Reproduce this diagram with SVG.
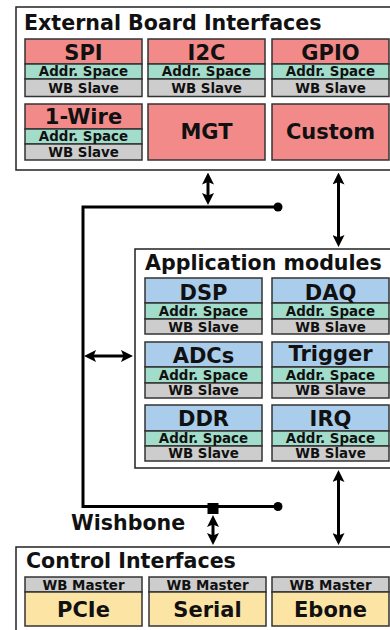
<svg xmlns="http://www.w3.org/2000/svg" width="390" height="630" viewBox="0 0 390 630">
<style>
.frame{fill:#fff;stroke:#222;stroke-width:1.5}
.r{fill:#f38a8a;stroke:#333;stroke-width:1.5}
.b{fill:#a9cdea;stroke:#333;stroke-width:1.5}
.y{fill:#fce4a4;stroke:#333;stroke-width:1.5}
.g{fill:#a2dcca;stroke:#333;stroke-width:1.5}
.s{fill:#cdcdcd;stroke:#333;stroke-width:1.5}
text{font-family:"DejaVu Sans",sans-serif;font-weight:bold;fill:#111}
.t{font-size:20.6px}
.l{font-size:21px;text-anchor:middle}
.m{font-size:13.4px;text-anchor:middle}
.c{fill:none;stroke:#000;stroke-width:3}
</style>
<defs>
<marker id="ah" viewBox="0 0 12 12" refX="8" refY="6" markerWidth="12" markerHeight="12" markerUnits="userSpaceOnUse" orient="auto-start-reverse">
<path d="M0,0 L12,6 L0,12 L2.5,6 z" fill="#000"/>
</marker>
</defs>

<g id="external-frame">
<rect class="frame" x="16" y="7" width="400" height="163"/>
<text class="t" x="24" y="29.5">External Board Interfaces</text>
</g>
<g id="spi">
<rect class="r" x="25" y="39" width="117" height="25"/><rect class="g" x="25" y="64" width="117" height="15"/><rect class="s" x="25" y="79" width="117" height="17.5"/>
<text class="l" x="83.5" y="59.5">SPI</text><text class="m" x="83.5" y="76">Addr. Space</text><text class="m" x="83.5" y="92.5">WB Slave</text>
</g>
<g id="i2c">
<rect class="r" x="148" y="39" width="117" height="25"/><rect class="g" x="148" y="64" width="117" height="15"/><rect class="s" x="148" y="79" width="117" height="17.5"/>
<text class="l" x="206.5" y="59.5">I2C</text><text class="m" x="206.5" y="76">Addr. Space</text><text class="m" x="206.5" y="92.5">WB Slave</text>
</g>
<g id="gpio">
<rect class="r" x="272" y="39" width="117" height="25"/><rect class="g" x="272" y="64" width="117" height="15"/><rect class="s" x="272" y="79" width="117" height="17.5"/>
<text class="l" x="330.5" y="59.5">GPIO</text><text class="m" x="330.5" y="76">Addr. Space</text><text class="m" x="330.5" y="92.5">WB Slave</text>
</g>
<g id="onewire">
<rect class="r" x="25" y="104" width="117" height="25"/><rect class="g" x="25" y="129" width="117" height="15"/><rect class="s" x="25" y="144" width="117" height="16"/>
<text class="l" x="83.5" y="123.5">1-Wire</text><text class="m" x="83.5" y="140.5">Addr. Space</text><text class="m" x="83.5" y="156.5">WB Slave</text>
</g>
<g id="mgt">
<rect class="r" x="148" y="104" width="117" height="56"/>
<text class="l" x="206.5" y="139">MGT</text>
</g>
<g id="custom">
<rect class="r" x="272" y="104" width="117" height="56"/>
<text class="l" x="330.5" y="139">Custom</text>
</g>

<g id="app-frame">
<rect class="frame" x="135" y="249" width="300" height="219"/>
<text class="t" x="145" y="270">Application modules</text>
</g>
<g id="dsp">
<rect class="b" x="145" y="278" width="117" height="25"/><rect class="g" x="145" y="303" width="117" height="16"/><rect class="s" x="145" y="319" width="117" height="15"/>
<text class="l" x="203.5" y="300">DSP</text><text class="m" x="203.5" y="316">Addr. Space</text><text class="m" x="203.5" y="331.5">WB Slave</text>
</g>
<g id="daq">
<rect class="b" x="272" y="278" width="117" height="25"/><rect class="g" x="272" y="303" width="117" height="16"/><rect class="s" x="272" y="319" width="117" height="15"/>
<text class="l" x="330.5" y="300">DAQ</text><text class="m" x="330.5" y="316">Addr. Space</text><text class="m" x="330.5" y="331.5">WB Slave</text>
</g>
<g id="adcs">
<rect class="b" x="145" y="342" width="117" height="25"/><rect class="g" x="145" y="367" width="117" height="16"/><rect class="s" x="145" y="383" width="117" height="15"/>
<text class="l" x="203.5" y="363">ADCs</text><text class="m" x="203.5" y="379.5">Addr. Space</text><text class="m" x="203.5" y="395">WB Slave</text>
</g>
<g id="trigger">
<rect class="b" x="272" y="342" width="117" height="25"/><rect class="g" x="272" y="367" width="117" height="16"/><rect class="s" x="272" y="383" width="117" height="15"/>
<text class="l" x="330.5" y="361">Trigger</text><text class="m" x="330.5" y="379.5">Addr. Space</text><text class="m" x="330.5" y="395">WB Slave</text>
</g>
<g id="ddr">
<rect class="b" x="145" y="405" width="117" height="26"/><rect class="g" x="145" y="431" width="117" height="15"/><rect class="s" x="145" y="446" width="117" height="15"/>
<text class="l" x="203.5" y="426">DDR</text><text class="m" x="203.5" y="442.5">Addr. Space</text><text class="m" x="203.5" y="457.5">WB Slave</text>
</g>
<g id="irq">
<rect class="b" x="272" y="405" width="117" height="26"/><rect class="g" x="272" y="431" width="117" height="15"/><rect class="s" x="272" y="446" width="117" height="15"/>
<text class="l" x="330.5" y="426">IRQ</text><text class="m" x="330.5" y="442.5">Addr. Space</text><text class="m" x="330.5" y="457.5">WB Slave</text>
</g>

<g id="control-frame">
<rect class="frame" x="16" y="547" width="400" height="100"/>
<text class="t" x="26" y="568">Control Interfaces</text>
</g>
<g id="pcie">
<rect class="s" x="25" y="577" width="117" height="15"/><rect class="y" x="25" y="592" width="117" height="34"/>
<text class="m" x="83.5" y="590">WB Master</text><text class="l" x="83.5" y="617">PCIe</text>
</g>
<g id="serial">
<rect class="s" x="149" y="577" width="117" height="15"/><rect class="y" x="149" y="592" width="117" height="34"/>
<text class="m" x="207.5" y="590">WB Master</text><text class="l" x="207.5" y="617">Serial</text>
</g>
<g id="ebone">
<rect class="s" x="272" y="577" width="117" height="15"/><rect class="y" x="272" y="592" width="117" height="34"/>
<text class="m" x="330.5" y="590">WB Master</text><text class="l" x="330.5" y="617">Ebone</text>
</g>

<g id="connectors">
<path class="c" d="M278,207 H83 V506.5 H278"/>
<circle cx="278" cy="207" r="4.5" fill="#000"/>
<circle cx="278" cy="506.5" r="4.5" fill="#000"/>
<rect x="207.5" y="503" width="11" height="11" fill="#000"/>
<line class="c" x1="208" y1="176.5" x2="208" y2="201" marker-start="url(#ah)" marker-end="url(#ah)"/>
<line class="c" x1="338.5" y1="176.5" x2="338.5" y2="243" marker-start="url(#ah)" marker-end="url(#ah)"/>
<line class="c" x1="338.5" y1="474" x2="338.5" y2="541" marker-start="url(#ah)" marker-end="url(#ah)"/>
<line class="c" x1="213" y1="519" x2="213" y2="541" marker-start="url(#ah)" marker-end="url(#ah)"/>
<line class="c" x1="88" y1="356" x2="129" y2="356" marker-start="url(#ah)" marker-end="url(#ah)"/>
<text class="t" x="71" y="530">Wishbone</text>
</g>
</svg>
